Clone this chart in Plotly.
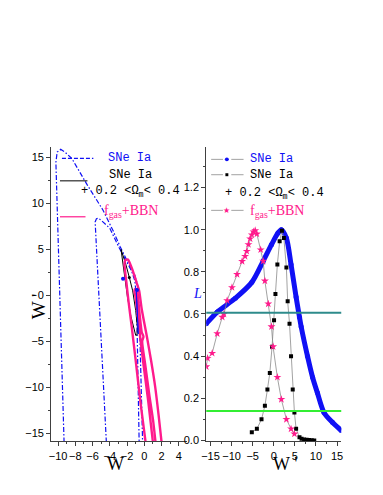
import plotly.graph_objects as go

# ---------------- data: left panel (w, w') confidence contours ----------------
blue_outer_w = [-9.3, -9.55, -9.8, -10.05, -10.25, -10.1, -9.7, -9.2, -8.4, -6.6, -4.8, -3.6,
                -2.8, -1.9, -1.1, -0.75, -0.6, -0.5, -0.35, -0.2]
blue_outer_wp = [-16, -8, -1.3, 6, 14.5, 15.6, 15.9, 15.6, 14.9, 12.0, 9.3, 7.0,
                 5.3, 3.6, 2.2, 1.0, -1.5, -5, -10, -16]
blue_inner_w = [-4.4, -4.8, -5.2, -5.45, -5.7, -5.55, -5.3, -4.8, -4.0, -2.9, -2.2, -1.5,
                -1.1, -0.95, -0.85, -0.75, -0.6]
blue_inner_wp = [-16, -8.5, -1.3, 4.0, 8.0, 8.35, 8.4, 8.0, 7.3, 5.15, 4.0, 2.7,
                 1.6, 0.2, -3, -8, -16]
blue_small_w = [-0.95, -0.85, -0.75, -0.7, -0.75, -0.8, -0.9, -0.95]
blue_small_wp = [0.8, -1.0, -3.0, -4.2, -3.0, -1.0, 0.5, 0.8]
blue_dot_w = [-2.47, -0.85]
blue_dot_wp = [1.8, 0.6]

black_w = [-2.7, -2.35, -1.95, -1.55, -1.2, -1.0, -0.85, -0.8, -1.0, -1.35, -1.75, -2.15, -2.7]
black_wp = [5.0, 2.5, -0.2, -2.3, -3.6, -4.35, -4.3, -3.5, -1.65, 0.5, 2.0, 3.4, 5.0]
black_dot_w = [-1.74]
black_dot_wp = [1.95]

pink_outer_w = [0.15, -0.4, -0.95, -1.45, -1.8, -2.1, -2.3, -2.2, -1.9, -1.55, -1.2, -0.9,
                -0.6, -0.3, 0.3, 0.8, 1.25, 1.65, 2.0]
pink_outer_wp = [-16, -12, -7.5, -3.5, -0.9, 1.6, 3.4, 3.85, 3.9, 3.2, 2.3, 1.4,
                 0.5, -1.5, -4.5, -7.2, -9.9, -13, -16]
pink_inner_w = [1.0, 0.45, -0.1, -0.55, -0.85, -1.05, -1.15, -1.05, -0.85, -0.75, -0.55,
                -0.3, -0.1, -0.25, 0.1, 0.6, 1.0, 1.3]
pink_inner_wp = [-16, -11.5, -7.5, -4, -1.5, 0.0, 0.45, 0.7, 0.6, 0.0, -2.0,
                 -4.0, -4.5, -5.0, -7.5, -11, -13.5, -16]

# ---------------- data: right panel likelihoods L(w') ----------------
sne_wp = [-16.0, -13.4, -9.1, -5.2, -2.5, -0.54, 1.0, 1.8, 3.0, 4.1, 5.3, 6.1, 6.5,
          8.0, 9.2, 10.35, 11.9, 13.9, 16.0]
sne_L = [0.554, 0.609, 0.675, 0.75, 0.851, 0.929, 0.984, 1.0, 0.96, 0.835, 0.68, 0.585, 0.54,
         0.40, 0.30, 0.226, 0.133, 0.086, 0.047]

snom_wp = [-5.2, -4.0, -2.9, -2.1, -1.5, -0.93, -0.4, 0.07, 0.4, 0.86, 1.4, 1.94, 2.4,
           3.0, 3.3, 3.74, 4.1, 4.5, 4.9, 5.3, 6.1, 6.6, 7.2, 7.8, 8.4, 9.0, 9.6]
snom_L = [0.039, 0.055, 0.10, 0.164, 0.242, 0.32, 0.445, 0.57, 0.695, 0.835, 0.945, 0.995, 0.96,
          0.82, 0.66, 0.554, 0.40, 0.242, 0.133, 0.055, 0.015, 0.008, 0.005, 0.003, 0.002, 0.001, 0.0]

fgas_wp = [-16.0, -15.7, -14.6, -13.4, -12.2, -11.8, -11.05, -9.9, -8.7, -7.5, -6.8, -6.4,
           -6.0, -5.6, -5.2, -4.8, -4.4, -4.0, -3.1, -2.5, -2.1, -1.3, -0.54, -0.16,
           0.86, 1.8, 3.0, 4.1, 4.9]
fgas_L = [0.35, 0.39, 0.414, 0.507, 0.585, 0.60, 0.664, 0.726, 0.788, 0.85, 0.874, 0.898,
          0.93, 0.957, 0.976, 0.99, 0.996, 0.98, 0.905, 0.851, 0.757, 0.648, 0.54, 0.445,
          0.30, 0.195, 0.10, 0.055, 0.031]

levels = [0.606, 0.14]
level_colors = ["#2e8b8b", "#33ee33"]

left_xticks = [-10, -8, -6, -4, -2, 0, 2, 4]
left_yticks = [-15, -10, -5, 0, 5, 10, 15]
right_xticks = [-15, -10, -5, 0, 5, 10, 15]
right_yticks = [0.0, 0.2, 0.4, 0.6, 0.8, 1.0, 1.2]

BLUE = "#1010f5"
PINK = "#ff1a8c"
GRAY = "#8a8a8a"

W, H = 383, 495


def P(xp, yp):
    return xp / W, 1 - yp / H


fig = go.Figure()

# ---- left panel traces ----
dd = "5px,2px,1.5px,2px"
fig.add_trace(go.Scatter(x=blue_outer_w, y=blue_outer_wp, mode="lines",
                         line=dict(color=BLUE, width=1.2, dash=dd), xaxis="x", yaxis="y"))
fig.add_trace(go.Scatter(x=blue_inner_w, y=blue_inner_wp, mode="lines",
                         line=dict(color=BLUE, width=1.2, dash=dd), xaxis="x", yaxis="y"))
fig.add_trace(go.Scatter(x=black_w, y=black_wp, mode="lines",
                         line=dict(color="black", width=1), xaxis="x", yaxis="y"))
fig.add_trace(go.Scatter(x=pink_outer_w, y=pink_outer_wp, mode="lines",
                         line=dict(color=PINK, width=2.4, shape="spline", smoothing=0.6),
                         xaxis="x", yaxis="y"))
fig.add_trace(go.Scatter(x=pink_inner_w, y=pink_inner_wp, mode="lines",
                         line=dict(color=PINK, width=2.4, shape="spline", smoothing=0.6),
                         xaxis="x", yaxis="y"))
fig.add_trace(go.Scatter(x=blue_small_w, y=blue_small_wp, mode="lines",
                         line=dict(color=BLUE, width=1.0), xaxis="x", yaxis="y"))
fig.add_trace(go.Scatter(x=blue_dot_w, y=blue_dot_wp, mode="markers",
                         marker=dict(color=BLUE, size=4), xaxis="x", yaxis="y"))
fig.add_trace(go.Scatter(x=black_dot_w, y=black_dot_wp, mode="markers",
                         marker=dict(color="black", size=3), xaxis="x", yaxis="y"))

# ---- right panel traces ----
fig.add_trace(go.Scatter(x=sne_wp, y=sne_L, mode="lines+markers",
                         line=dict(color=BLUE, width=5, shape="spline", smoothing=0.8),
                         marker=dict(color=BLUE, size=5), xaxis="x2", yaxis="y2"))
fig.add_trace(go.Scatter(x=snom_wp, y=snom_L, mode="lines+markers",
                         line=dict(color=GRAY, width=0.8),
                         marker=dict(color="black", size=4, symbol="square"),
                         xaxis="x2", yaxis="y2"))
fig.add_trace(go.Scatter(x=fgas_wp, y=fgas_L, mode="lines+markers",
                         line=dict(color=GRAY, width=0.8),
                         marker=dict(color=PINK, size=6, symbol="star", line=dict(width=0)),
                         xaxis="x2", yaxis="y2"))

shapes = []
for lv, c in zip(levels, level_colors):
    shapes.append(dict(type="line", xref="x2 domain", yref="y2", x0=0, x1=1, y0=lv, y1=lv,
                       line=dict(color=c, width=2)))

# ---- legend drawings (paper coords) ----
def seg(x0, x1, y, color, width=1.0, dash="solid"):
    a = P(x0, y)
    b = P(x1, y)
    shapes.append(dict(type="line", xref="paper", yref="paper", x0=a[0], x1=b[0], y0=a[1], y1=b[1],
                       line=dict(color=color, width=width, dash=dash)))

seg(58, 90, 160, BLUE, 1.2, "4px,2px")
seg(56, 84, 182.7, "black", 1)
seg(56, 82, 219, PINK, 1.2)

for yy in [161, 176.5, 212.5]:
    seg(210, 222, yy, GRAY, 0.8)
    seg(230.5, 243, yy, GRAY, 0.8)

c0 = P(224, 159)
c1 = P(228, 163)
shapes.append(dict(type="circle", xref="paper", yref="paper", x0=c0[0], x1=c1[0], y0=c1[1], y1=c0[1],
                   fillcolor=BLUE, line=dict(width=0)))
s0 = P(224.5, 175)
s1 = P(227.5, 178)
shapes.append(dict(type="rect", xref="paper", yref="paper", x0=s0[0], x1=s1[0], y0=s1[1], y1=s0[1],
                   fillcolor="black", line=dict(width=0)))

ann = []
MONO = "Liberation Mono"
SERIF = "Liberation Serif"


def text(t, xp, yp, color="black", size=12, family=MONO, xanchor="left", **kw):
    x, y = P(xp, yp)
    ann.append(dict(text=t, x=x, y=y, xref="paper", yref="paper", showarrow=False,
                    xanchor=xanchor, yanchor="middle", align=xanchor if xanchor != "center" else "center",
                    borderpad=0,
                    font=dict(family=family, size=size, color=color), **kw))

text("SNe Ia", 104, 160, BLUE)
text("SNe Ia", 105, 177)
text("+ 0.2 &lt;Ω<sub>m</sub>&lt; 0.4", 76, 194)
text("f<sub>gas</sub>+BBN", 100, 214, PINK, 14, SERIF)

text("SNe Ia", 249, 160.5, BLUE)
text("SNe Ia", 249, 177)
text("+ 0.2 &lt;Ω<sub>m</sub>&lt; 0.4", 223, 196)
text("f<sub>gas</sub>+BBN", 249, 214, PINK, 14, SERIF)
text("★", 226, 212.5, PINK, 8, "DejaVu Sans", xanchor="center")

# axis titles
text("W", 113, 469, "black", 18, SERIF, xanchor="center")
text("W '", 35, 309, "black", 19, SERIF, xanchor="center", textangle=-90)
text("W '", 285, 469, "black", 18, SERIF, xanchor="center")
text("<i>L</i>", 196, 296, BLUE, 14, SERIF, xanchor="center")

dom_y = [1 - 446 / H, 1 - 149 / H]
dom_l = [47 / W, 185 / W]
dom_r = [205 / W, 342.5 / W]

common = dict(showgrid=False, zeroline=False, showline=True, linecolor="#404040", linewidth=1,
              ticks="outside", ticklen=4, tickcolor="#404040", tickwidth=1, tickangle=0,
              tickfont=dict(family="Liberation Sans", size=11, color="black"))
inner = dict(showgrid=False, zeroline=False, showline=True, linecolor="#404040", linewidth=1,
             ticks="inside", ticklen=4, tickcolor="#404040", showticklabels=False)

fig.update_layout(
    width=W, height=H, margin=dict(l=0, r=0, t=0, b=0),
    paper_bgcolor="white", plot_bgcolor="white", showlegend=False,
    font=dict(family="Liberation Sans", size=11, color="black"),
    xaxis=dict(domain=dom_l, range=[-10.8, 4.9], tickvals=left_xticks, anchor="y",
               minor=dict(dtick=1, ticklen=2, ticks="outside", tickcolor="#404040"), **common),
    yaxis=dict(domain=dom_y, range=[-15.9, 16.1], tickvals=left_yticks, anchor="x",
               minor=dict(dtick=2.5, ticklen=2, ticks="outside", tickcolor="#404040"), **common),
    xaxis2=dict(domain=dom_r, range=[-16, 16], tickvals=right_xticks, anchor="y2",
                minor=dict(dtick=2.5, ticklen=2, ticks="outside", tickcolor="#404040"), **common),
    yaxis2=dict(domain=dom_y, range=[-0.005, 1.39], tickvals=right_yticks, tickformat=".1f",
                anchor="x2",
                minor=dict(dtick=0.1, ticklen=2, ticks="outside", tickcolor="#404040"), **common),
    xaxis3=dict(overlaying="x", side="top", anchor="y", range=[-10.8, 4.9], tickvals=left_xticks,
                **inner),
    yaxis3=dict(overlaying="y", side="right", anchor="x", range=[-15.9, 16.1],
                tickvals=[-15, -12.5, -10, -7.5, -5, -2.5, 0, 2.5, 5, 7.5, 10, 12.5, 15], **inner),
    xaxis4=dict(overlaying="x2", side="top", anchor="y2", range=[-16, 16], tickvals=right_xticks,
                **inner),
    yaxis4=dict(overlaying="y2", side="right", anchor="x2", range=[-0.005, 1.39],
                tickvals=right_yticks, **inner),
    shapes=shapes, annotations=ann,
)

fig.write_html("out.html", config={"displayModeBar": False},
               post_script="document.body.style.margin='0';document.body.style.overflow='hidden';")
